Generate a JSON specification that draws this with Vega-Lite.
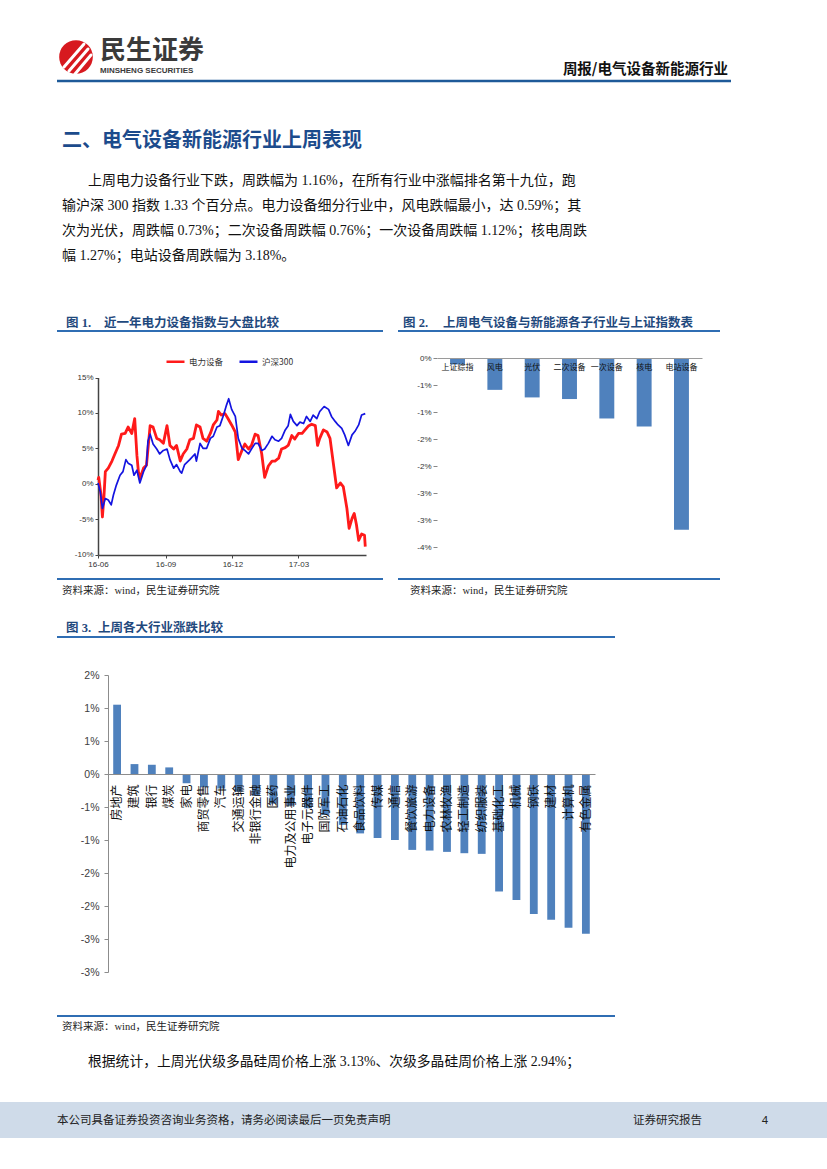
{
  "$schema": "https://vega.github.io/schema/vega-lite/v6.json",
  "width": 827,
  "height": 1169,
  "padding": 0,
  "autosize": {"type": "none"},
  "background": "white",
  "config": {"view": {"stroke": null}, "axis": {"grid": false}, "font": "Noto Sans CJK SC"},
  "data": {"values": [{}]},
  "resolve": {"scale": {"x": "independent", "y": "independent", "color": "independent"}, "axis": {"x": "independent", "y": "independent"}},
  "layer": [
    {"mark": {"type": "point", "filled": true, "x": 76, "y": 57, "size": 1134, "color": "#d7191f", "opacity": 1}},
    {"mark": {"type": "rule", "color": "#ffffff", "strokeWidth": 3, "strokeCap": "round", "opacity": 1}, "encoding": {"x": {"value": 64}, "y": {"value": 67}, "x2": {"value": 84}, "y2": {"value": 44}}},
    {"mark": {"type": "rule", "color": "#ffffff", "strokeWidth": 3, "strokeCap": "round", "opacity": 1}, "encoding": {"x": {"value": 69}, "y": {"value": 71}, "x2": {"value": 88}, "y2": {"value": 49}}},
    {"mark": {"type": "rule", "color": "#ffffff", "strokeWidth": 3, "strokeCap": "round", "opacity": 1}, "encoding": {"x": {"value": 75}, "y": {"value": 74}, "x2": {"value": 91}, "y2": {"value": 55}}},
    {"mark": {"type": "text", "x": 100, "y": 51, "text": "民生证券", "align": "left", "baseline": "middle", "fontSize": 26, "fontWeight": "bold", "fill": "#3a3a3a", "font": "Noto Sans CJK SC"}},
    {"mark": {"type": "text", "x": 100, "y": 71, "text": "MINSHENG SECURITIES", "align": "left", "baseline": "middle", "fontSize": 8, "fontWeight": "bold", "fill": "#3a3a3a", "font": "Liberation Sans"}},
    {"mark": {"type": "text", "x": 728, "y": 70, "text": "周报/电气设备新能源行业", "align": "right", "baseline": "middle", "fontSize": 14.5, "fontWeight": "bold", "fill": "#111111", "font": "Noto Sans CJK SC"}},
    {"mark": {"type": "rule", "stroke": "#1e5a99", "strokeWidth": 2.5}, "encoding": {"x": {"value": 57}, "x2": {"value": 731}, "y": {"value": 81}, "y2": {"value": 81}}},
    {"mark": {"type": "text", "x": 62, "y": 141, "text": "二、电气设备新能源行业上周表现", "align": "left", "baseline": "middle", "fontSize": 20, "fontWeight": "bold", "fill": "#1c4b8c", "font": "Noto Sans CJK SC"}},
    {"mark": {"type": "text", "x": 88, "y": 181, "text": "上周电力设备行业下跌，周跌幅为 1.16%，在所有行业中涨幅排名第十九位，跑", "align": "left", "baseline": "middle", "fontSize": 14, "fill": "#111111", "font": "Liberation Serif, Noto Sans CJK SC"}},
    {"mark": {"type": "text", "x": 62, "y": 206, "text": "输沪深 300 指数 1.33 个百分点。电力设备细分行业中，风电跌幅最小，达 0.59%；其", "align": "left", "baseline": "middle", "fontSize": 14, "fill": "#111111", "font": "Liberation Serif, Noto Sans CJK SC"}},
    {"mark": {"type": "text", "x": 62, "y": 231, "text": "次为光伏，周跌幅 0.73%；二次设备周跌幅 0.76%；一次设备周跌幅 1.12%；核电周跌", "align": "left", "baseline": "middle", "fontSize": 14, "fill": "#111111", "font": "Liberation Serif, Noto Sans CJK SC"}},
    {"mark": {"type": "text", "x": 62, "y": 256, "text": "幅 1.27%；电站设备周跌幅为 3.18%。", "align": "left", "baseline": "middle", "fontSize": 14, "fill": "#111111", "font": "Liberation Serif, Noto Sans CJK SC"}},
    {"mark": {"type": "text", "x": 66, "y": 323, "text": "图 1.", "align": "left", "baseline": "middle", "fontSize": 12.5, "fontWeight": "bold", "fill": "#1f497d", "font": "Liberation Serif, Noto Sans CJK SC"}},
    {"mark": {"type": "text", "x": 104, "y": 323, "text": "近一年电力设备指数与大盘比较", "align": "left", "baseline": "middle", "fontSize": 12.5, "fontWeight": "bold", "fill": "#1f497d", "font": "Noto Sans CJK SC"}},
    {"mark": {"type": "rule", "stroke": "#2f6db3", "strokeWidth": 2}, "encoding": {"x": {"value": 57}, "x2": {"value": 383}, "y": {"value": 331}, "y2": {"value": 331}}},
    {"mark": {"type": "text", "x": 403, "y": 323, "text": "图  2.", "align": "left", "baseline": "middle", "fontSize": 12.5, "fontWeight": "bold", "fill": "#1f497d", "font": "Liberation Serif, Noto Sans CJK SC"}},
    {"mark": {"type": "text", "x": 443, "y": 323, "text": "上周电气设备与新能源各子行业与上证指数表", "align": "left", "baseline": "middle", "fontSize": 12.5, "fontWeight": "bold", "fill": "#1f497d", "font": "Noto Sans CJK SC"}},
    {"mark": {"type": "rule", "stroke": "#2f6db3", "strokeWidth": 2}, "encoding": {"x": {"value": 398}, "x2": {"value": 720}, "y": {"value": 331}, "y2": {"value": 331}}},
    {"mark": {"type": "rule", "stroke": "#2f6db3", "strokeWidth": 2}, "encoding": {"x": {"value": 57}, "x2": {"value": 383}, "y": {"value": 579}, "y2": {"value": 579}}},
    {"mark": {"type": "rule", "stroke": "#2f6db3", "strokeWidth": 2}, "encoding": {"x": {"value": 398}, "x2": {"value": 720}, "y": {"value": 579}, "y2": {"value": 579}}},
    {"mark": {"type": "text", "x": 62, "y": 591, "text": "资料来源：wind，民生证券研究院", "align": "left", "baseline": "middle", "fontSize": 10.5, "fill": "#222222", "font": "Liberation Serif, Noto Sans CJK SC"}},
    {"mark": {"type": "text", "x": 410, "y": 591, "text": "资料来源：wind，民生证券研究院", "align": "left", "baseline": "middle", "fontSize": 10.5, "fill": "#222222", "font": "Liberation Serif, Noto Sans CJK SC"}},
    {"mark": {"type": "text", "x": 66, "y": 628, "text": "图 3.", "align": "left", "baseline": "middle", "fontSize": 12.5, "fontWeight": "bold", "fill": "#1f497d", "font": "Liberation Serif, Noto Sans CJK SC"}},
    {"mark": {"type": "text", "x": 98, "y": 628, "text": "上周各大行业涨跌比较", "align": "left", "baseline": "middle", "fontSize": 12.5, "fontWeight": "bold", "fill": "#1f497d", "font": "Noto Sans CJK SC"}},
    {"mark": {"type": "rule", "stroke": "#2f6db3", "strokeWidth": 2}, "encoding": {"x": {"value": 57}, "x2": {"value": 615}, "y": {"value": 637}, "y2": {"value": 637}}},
    {"mark": {"type": "rule", "stroke": "#2f6db3", "strokeWidth": 2}, "encoding": {"x": {"value": 57}, "x2": {"value": 615}, "y": {"value": 1016}, "y2": {"value": 1016}}},
    {"mark": {"type": "text", "x": 62, "y": 1027, "text": "资料来源：wind，民生证券研究院", "align": "left", "baseline": "middle", "fontSize": 10.5, "fill": "#222222", "font": "Liberation Serif, Noto Sans CJK SC"}},
    {"mark": {"type": "text", "x": 88, "y": 1062, "text": "根据统计，上周光伏级多晶硅周价格上涨 3.13%、次级多晶硅周价格上涨 2.94%；", "align": "left", "baseline": "middle", "fontSize": 13.8, "fill": "#111111", "font": "Liberation Serif, Noto Sans CJK SC"}},
    {"mark": {"type": "rect", "x": 0, "x2": 827, "y": 1102, "y2": 1138, "fill": "#cfdbe9"}, "encoding": {}},
    {"mark": {"type": "text", "x": 57, "y": 1121, "text": "本公司具备证券投资咨询业务资格，请务必阅读最后一页免责声明", "align": "left", "baseline": "middle", "fontSize": 11.5, "fill": "#222222", "font": "Noto Sans CJK SC"}},
    {"mark": {"type": "text", "x": 633, "y": 1121, "text": "证券研究报告", "align": "left", "baseline": "middle", "fontSize": 11.5, "fill": "#222222", "font": "Noto Sans CJK SC"}},
    {"mark": {"type": "text", "x": 765, "y": 1121, "text": "4", "align": "center", "baseline": "middle", "fontSize": 11.5, "fill": "#222222", "font": "Liberation Sans"}},
    {
      "data": {"values": [
        {"d": "2016/06/01", "s": "电力设备", "v": 0.5},
        {"d": "2016/06/02", "s": "电力设备", "v": 0.9},
        {"d": "2016/06/05", "s": "电力设备", "v": -1.5},
        {"d": "2016/06/07", "s": "电力设备", "v": -4.7},
        {"d": "2016/06/09", "s": "电力设备", "v": -2},
        {"d": "2016/06/11", "s": "电力设备", "v": 1.7},
        {"d": "2016/06/15", "s": "电力设备", "v": 2.2},
        {"d": "2016/06/20", "s": "电力设备", "v": 3.2},
        {"d": "2016/06/24", "s": "电力设备", "v": 4.2},
        {"d": "2016/06/29", "s": "电力设备", "v": 5.4},
        {"d": "2016/07/03", "s": "电力设备", "v": 7},
        {"d": "2016/07/08", "s": "电力设备", "v": 7.1},
        {"d": "2016/07/12", "s": "电力设备", "v": 8},
        {"d": "2016/07/17", "s": "电力设备", "v": 7.1},
        {"d": "2016/07/21", "s": "电力设备", "v": 9.2},
        {"d": "2016/07/24", "s": "电力设备", "v": 4},
        {"d": "2016/07/26", "s": "电力设备", "v": 1.7},
        {"d": "2016/07/28", "s": "电力设备", "v": 0.75},
        {"d": "2016/08/02", "s": "电力设备", "v": 2.2},
        {"d": "2016/08/06", "s": "电力设备", "v": 2.6},
        {"d": "2016/08/11", "s": "电力设备", "v": 8.2},
        {"d": "2016/08/15", "s": "电力设备", "v": 8},
        {"d": "2016/08/20", "s": "电力设备", "v": 6.4},
        {"d": "2016/08/24", "s": "电力设备", "v": 6.2},
        {"d": "2016/08/29", "s": "电力设备", "v": 5.7},
        {"d": "2016/09/03", "s": "电力设备", "v": 8.2},
        {"d": "2016/09/07", "s": "电力设备", "v": 5.4},
        {"d": "2016/09/12", "s": "电力设备", "v": 4.9},
        {"d": "2016/09/16", "s": "电力设备", "v": 5.4},
        {"d": "2016/09/21", "s": "电力设备", "v": 3.2},
        {"d": "2016/09/25", "s": "电力设备", "v": 4.2},
        {"d": "2016/09/30", "s": "电力设备", "v": 4.9},
        {"d": "2016/10/04", "s": "电力设备", "v": 6.2},
        {"d": "2016/10/09", "s": "电力设备", "v": 6.4},
        {"d": "2016/10/13", "s": "电力设备", "v": 8.3},
        {"d": "2016/10/18", "s": "电力设备", "v": 8},
        {"d": "2016/10/22", "s": "电力设备", "v": 6.4},
        {"d": "2016/10/27", "s": "电力设备", "v": 6},
        {"d": "2016/11/01", "s": "电力设备", "v": 7.1},
        {"d": "2016/11/05", "s": "电力设备", "v": 8.3},
        {"d": "2016/11/10", "s": "电力设备", "v": 9},
        {"d": "2016/11/12", "s": "电力设备", "v": 10.2},
        {"d": "2016/11/16", "s": "电力设备", "v": 9.7},
        {"d": "2016/11/21", "s": "电力设备", "v": 9.9},
        {"d": "2016/11/25", "s": "电力设备", "v": 9.2},
        {"d": "2016/11/30", "s": "电力设备", "v": 8.3},
        {"d": "2016/12/05", "s": "电力设备", "v": 7.3},
        {"d": "2016/12/09", "s": "电力设备", "v": 3.4},
        {"d": "2016/12/14", "s": "电力设备", "v": 4.7},
        {"d": "2016/12/18", "s": "电力设备", "v": 5.6},
        {"d": "2016/12/23", "s": "电力设备", "v": 4.9},
        {"d": "2016/12/27", "s": "电力设备", "v": 5.4},
        {"d": "2017/01/01", "s": "电力设备", "v": 7},
        {"d": "2017/01/05", "s": "电力设备", "v": 6.8},
        {"d": "2017/01/10", "s": "电力设备", "v": 4.2},
        {"d": "2017/01/14", "s": "电力设备", "v": 0.9},
        {"d": "2017/01/19", "s": "电力设备", "v": 2.5},
        {"d": "2017/01/24", "s": "电力设备", "v": 3.2},
        {"d": "2017/01/28", "s": "电力设备", "v": 3.2},
        {"d": "2017/02/02", "s": "电力设备", "v": 3.6},
        {"d": "2017/02/06", "s": "电力设备", "v": 4.9},
        {"d": "2017/02/11", "s": "电力设备", "v": 5.1},
        {"d": "2017/02/15", "s": "电力设备", "v": 5.4},
        {"d": "2017/02/20", "s": "电力设备", "v": 6.8},
        {"d": "2017/02/24", "s": "电力设备", "v": 6.3},
        {"d": "2017/03/01", "s": "电力设备", "v": 7.1},
        {"d": "2017/03/06", "s": "电力设备", "v": 7.1},
        {"d": "2017/03/10", "s": "电力设备", "v": 7.6},
        {"d": "2017/03/15", "s": "电力设备", "v": 8.2},
        {"d": "2017/03/19", "s": "电力设备", "v": 8.4},
        {"d": "2017/03/24", "s": "电力设备", "v": 8.2},
        {"d": "2017/03/27", "s": "电力设备", "v": 5.4},
        {"d": "2017/03/30", "s": "电力设备", "v": 6.4},
        {"d": "2017/04/04", "s": "电力设备", "v": 7.6},
        {"d": "2017/04/09", "s": "电力设备", "v": 7.3},
        {"d": "2017/04/13", "s": "电力设备", "v": 6.4},
        {"d": "2017/04/18", "s": "电力设备", "v": 2.5},
        {"d": "2017/04/22", "s": "电力设备", "v": -0.6},
        {"d": "2017/04/27", "s": "电力设备", "v": 0.1},
        {"d": "2017/05/01", "s": "电力设备", "v": -0.4},
        {"d": "2017/05/06", "s": "电力设备", "v": -3.5},
        {"d": "2017/05/09", "s": "电力设备", "v": -6.3},
        {"d": "2017/05/13", "s": "电力设备", "v": -4.9},
        {"d": "2017/05/16", "s": "电力设备", "v": -4.2},
        {"d": "2017/05/19", "s": "电力设备", "v": -5.8},
        {"d": "2017/05/22", "s": "电力设备", "v": -8},
        {"d": "2017/05/26", "s": "电力设备", "v": -7.1},
        {"d": "2017/05/30", "s": "电力设备", "v": -7.3},
        {"d": "2017/05/31", "s": "电力设备", "v": -8.9},
        {"d": "2016/06/01", "s": "沪深300", "v": 0.1},
        {"d": "2016/06/04", "s": "沪深300", "v": -1.1},
        {"d": "2016/06/07", "s": "沪深300", "v": -3.5},
        {"d": "2016/06/11", "s": "沪深300", "v": -2.1},
        {"d": "2016/06/15", "s": "沪深300", "v": -2.3},
        {"d": "2016/06/19", "s": "沪深300", "v": -3},
        {"d": "2016/06/22", "s": "沪深300", "v": -1.6},
        {"d": "2016/06/26", "s": "沪深300", "v": -0.2},
        {"d": "2016/07/01", "s": "沪深300", "v": 1.2},
        {"d": "2016/07/05", "s": "沪深300", "v": 1.7},
        {"d": "2016/07/09", "s": "沪深300", "v": 3.4},
        {"d": "2016/07/12", "s": "沪深300", "v": 2.9},
        {"d": "2016/07/17", "s": "沪深300", "v": 2.6},
        {"d": "2016/07/20", "s": "沪深300", "v": 1.2},
        {"d": "2016/07/24", "s": "沪深300", "v": 1.9},
        {"d": "2016/07/28", "s": "沪深300", "v": 0.1},
        {"d": "2016/08/02", "s": "沪深300", "v": 1.7},
        {"d": "2016/08/06", "s": "沪深300", "v": 2.6},
        {"d": "2016/08/08", "s": "沪深300", "v": 6},
        {"d": "2016/08/11", "s": "沪深300", "v": 7},
        {"d": "2016/08/15", "s": "沪深300", "v": 5.6},
        {"d": "2016/08/20", "s": "沪深300", "v": 4.9},
        {"d": "2016/08/24", "s": "沪深300", "v": 4.2},
        {"d": "2016/08/29", "s": "沪深300", "v": 4.7},
        {"d": "2016/09/03", "s": "沪深300", "v": 4.9},
        {"d": "2016/09/07", "s": "沪深300", "v": 3.4},
        {"d": "2016/09/12", "s": "沪深300", "v": 2.2},
        {"d": "2016/09/16", "s": "沪深300", "v": 2.7},
        {"d": "2016/09/21", "s": "沪深300", "v": 1.7},
        {"d": "2016/09/23", "s": "沪深300", "v": 1.5},
        {"d": "2016/09/27", "s": "沪深300", "v": 2.7},
        {"d": "2016/10/04", "s": "沪深300", "v": 3.4},
        {"d": "2016/10/11", "s": "沪深300", "v": 4.2},
        {"d": "2016/10/13", "s": "沪深300", "v": 3.2},
        {"d": "2016/10/18", "s": "沪深300", "v": 5.7},
        {"d": "2016/10/22", "s": "沪深300", "v": 5},
        {"d": "2016/10/27", "s": "沪深300", "v": 5},
        {"d": "2016/11/01", "s": "沪深300", "v": 6.4},
        {"d": "2016/11/05", "s": "沪深300", "v": 6.7},
        {"d": "2016/11/10", "s": "沪深300", "v": 8},
        {"d": "2016/11/14", "s": "沪深300", "v": 8.2},
        {"d": "2016/11/19", "s": "沪深300", "v": 9.7},
        {"d": "2016/11/23", "s": "沪深300", "v": 11.1},
        {"d": "2016/11/26", "s": "沪深300", "v": 12},
        {"d": "2016/11/30", "s": "沪深300", "v": 10.5},
        {"d": "2016/12/05", "s": "沪深300", "v": 9.5},
        {"d": "2016/12/09", "s": "沪深300", "v": 6.4},
        {"d": "2016/12/14", "s": "沪深300", "v": 5},
        {"d": "2016/12/18", "s": "沪深300", "v": 4.7},
        {"d": "2016/12/23", "s": "沪深300", "v": 4.2},
        {"d": "2016/12/27", "s": "沪深300", "v": 4.9},
        {"d": "2017/01/01", "s": "沪深300", "v": 5.7},
        {"d": "2017/01/05", "s": "沪深300", "v": 5.7},
        {"d": "2017/01/10", "s": "沪深300", "v": 4.7},
        {"d": "2017/01/14", "s": "沪深300", "v": 4.9},
        {"d": "2017/01/19", "s": "沪深300", "v": 5.7},
        {"d": "2017/01/24", "s": "沪深300", "v": 6.7},
        {"d": "2017/01/28", "s": "沪深300", "v": 6.2},
        {"d": "2017/02/02", "s": "沪深300", "v": 6.0},
        {"d": "2017/02/06", "s": "沪深300", "v": 6.4},
        {"d": "2017/02/11", "s": "沪深300", "v": 7.6},
        {"d": "2017/02/15", "s": "沪深300", "v": 8.2},
        {"d": "2017/02/18", "s": "沪深300", "v": 9.8},
        {"d": "2017/02/22", "s": "沪深300", "v": 8.8},
        {"d": "2017/02/27", "s": "沪深300", "v": 8.2},
        {"d": "2017/03/03", "s": "沪深300", "v": 8.7},
        {"d": "2017/03/08", "s": "沪深300", "v": 8.5},
        {"d": "2017/03/12", "s": "沪深300", "v": 9.5},
        {"d": "2017/03/17", "s": "沪深300", "v": 8.8},
        {"d": "2017/03/21", "s": "沪深300", "v": 9.7},
        {"d": "2017/03/26", "s": "沪深300", "v": 9.2},
        {"d": "2017/03/30", "s": "沪深300", "v": 10.2},
        {"d": "2017/04/05", "s": "沪深300", "v": 10.9},
        {"d": "2017/04/11", "s": "沪深300", "v": 10.5},
        {"d": "2017/04/15", "s": "沪深300", "v": 9.5},
        {"d": "2017/04/20", "s": "沪深300", "v": 8.8},
        {"d": "2017/04/24", "s": "沪深300", "v": 8.3},
        {"d": "2017/04/29", "s": "沪深300", "v": 7.8},
        {"d": "2017/05/03", "s": "沪深300", "v": 6.9},
        {"d": "2017/05/08", "s": "沪深300", "v": 5.4},
        {"d": "2017/05/13", "s": "沪深300", "v": 6.9},
        {"d": "2017/05/17", "s": "沪深300", "v": 7.4},
        {"d": "2017/05/22", "s": "沪深300", "v": 8.3},
        {"d": "2017/05/26", "s": "沪深300", "v": 9.7},
        {"d": "2017/05/31", "s": "沪深300", "v": 9.9}
      ]},
      "mark": {"type": "line", "strokeJoin": "round"},
      "encoding": {
        "x": {"field": "d", "type": "temporal", "title": null,
          "scale": {"domain": [{"year": 2016, "month": 6, "date": 1}, {"year": 2017, "month": 6, "date": 1}], "range": [98, 366]},
          "axis": {"orient": "bottom", "offset": -614, "values": [{"year": 2016, "month": 6, "date": 1}, {"year": 2016, "month": 9, "date": 1}, {"year": 2016, "month": 12, "date": 1}, {"year": 2017, "month": 3, "date": 1}], "format": "%y-%m", "labelFontSize": 8, "labelFont": "Liberation Sans", "labelColor": "#333333", "tickSize": 3, "tickColor": "#444444", "domainColor": "#444444", "domainWidth": 1.5, "labelFlush": false, "labelPadding": 2, "labelOverlap": false}},
        "y": {"field": "v", "type": "quantitative", "title": null,
          "scale": {"domain": [-10, 15], "range": [554.5, 377.5], "nice": false, "zero": false},
          "axis": {"orient": "left", "offset": -98, "values": [-10, -5, 0, 5, 10, 15], "labelExpr": "datum.value + '%'", "labelFontSize": 8, "labelFont": "Liberation Sans", "labelColor": "#333333", "tickSize": 3, "tickColor": "#444444", "domainColor": "#444444", "domainWidth": 1.5, "labelPadding": 2}},
        "color": {"field": "s", "type": "nominal",
          "scale": {"domain": ["电力设备", "沪深300"], "range": ["#ff1a1a", "#1414e0"]},
          "legend": {"orient": "none", "legendX": 165, "legendY": 351, "direction": "horizontal", "title": null, "symbolType": "stroke", "symbolSize": 324, "symbolStrokeWidth": 2.5, "labelFontSize": 8.5, "labelColor": "#333333", "labelFont": "Noto Sans CJK SC", "columnPadding": 10, "labelOffset": 3, "padding": 0}},
        "strokeWidth": {"condition": {"test": "datum.s === '电力设备'", "value": 2.8}, "value": 1.7}
      }
    },
    {
      "data": {"values": [
        {"name": "上证综指", "chg": -0.12},
        {"name": "风电", "chg": -0.59},
        {"name": "光伏", "chg": -0.73},
        {"name": "二次设备", "chg": -0.76},
        {"name": "一次设备", "chg": -1.12},
        {"name": "核电", "chg": -1.27},
        {"name": "电站设备", "chg": -3.18}
      ]},
      "mark": {"type": "bar", "color": "#4f81bd"},
      "encoding": {
        "x": {"field": "name", "type": "nominal", "sort": null, "title": null,
          "scale": {"range": [437, 702], "paddingInner": 0.6, "paddingOuter": 0.35},
          "axis": {"orient": "bottom", "offset": -811, "labelAngle": 0, "labelFontSize": 8, "labelFont": "Noto Sans CJK SC", "labelColor": "#111111", "labelPadding": 5, "labelBaseline": "top", "ticks": false, "tickSize": 0, "domainColor": "#9a9a9a", "zindex": 1, "labelOverlap": false}},
        "y": {"field": "chg", "type": "quantitative", "title": null,
          "scale": {"domain": [-3.5, 0], "range": [547, 358], "nice": false, "zero": true},
          "axis": {"orient": "left", "offset": -437, "values": [0, -0.5, -1, -1.5, -2, -2.5, -3, -3.5], "labelExpr": "(datum.value < 0 ? '-' : '') + round(abs(datum.value) + 0.001) + '%'", "domain": false, "tickSize": 4, "tickColor": "#888888", "labelFontSize": 8, "labelFont": "Liberation Sans", "labelColor": "#333333", "labelPadding": 2}}
      }
    },
    {
      "data": {"values": [
        {"industry": "房地产", "chg": 1.05},
        {"industry": "建筑", "chg": 0.15},
        {"industry": "银行", "chg": 0.14},
        {"industry": "煤炭", "chg": 0.1},
        {"industry": "家电", "chg": -0.14},
        {"industry": "商贸零售", "chg": -0.2},
        {"industry": "汽车", "chg": -0.22},
        {"industry": "交通运输", "chg": -0.27},
        {"industry": "非银行金融", "chg": -0.33},
        {"industry": "医药", "chg": -0.45},
        {"industry": "电力及公用事业", "chg": -0.48},
        {"industry": "电子元器件", "chg": -0.52},
        {"industry": "国防军工", "chg": -0.62},
        {"industry": "石油石化", "chg": -0.77},
        {"industry": "食品饮料", "chg": -0.9},
        {"industry": "传媒", "chg": -0.97},
        {"industry": "通信", "chg": -1.0},
        {"industry": "餐饮旅游", "chg": -1.15},
        {"industry": "电力设备", "chg": -1.16},
        {"industry": "农林牧渔", "chg": -1.18},
        {"industry": "轻工制造", "chg": -1.2},
        {"industry": "纺织服装", "chg": -1.21},
        {"industry": "基础化工", "chg": -1.78},
        {"industry": "机械", "chg": -1.91},
        {"industry": "钢铁", "chg": -2.12},
        {"industry": "建材", "chg": -2.21},
        {"industry": "计算机", "chg": -2.33},
        {"industry": "有色金属", "chg": -2.42}
      ]},
      "mark": {"type": "bar", "color": "#4f81bd"},
      "encoding": {
        "x": {"field": "industry", "type": "nominal", "sort": null, "title": null,
          "scale": {"range": [108, 595], "paddingInner": 0.55, "paddingOuter": 0.3},
          "axis": {"orient": "bottom", "offset": -395, "labelAngle": -90, "labelAlign": "right", "labelBaseline": "middle", "labelFontSize": 12, "labelFont": "Noto Sans CJK SC", "labelColor": "#111111", "labelPadding": 10, "ticks": false, "tickSize": 0, "domainColor": "#8c8c8c", "zindex": 1, "labelOverlap": false}},
        "y": {"field": "chg", "type": "quantitative", "title": null,
          "scale": {"domain": [-3, 1.5], "range": [972, 675], "nice": false, "zero": true},
          "axis": {"orient": "left", "offset": -108, "values": [1.5, 1, 0.5, 0, -0.5, -1, -1.5, -2, -2.5, -3], "labelExpr": "(datum.value < 0 ? '-' : '') + round(abs(datum.value) + 0.001) + '%'", "tickSize": 4, "tickColor": "#8c8c8c", "domainColor": "#8c8c8c", "labelFontSize": 10.5, "labelFont": "Liberation Sans", "labelColor": "#404040", "labelPadding": 5}}
      }
    }
  ]
}
